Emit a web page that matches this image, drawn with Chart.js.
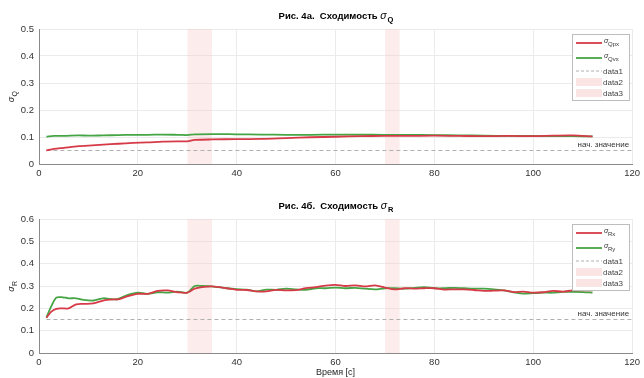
<!DOCTYPE html>
<html><head><meta charset="utf-8">
<script src="https://cdn.jsdelivr.net/npm/chart.js@4"></script>
<style>
html,body{margin:0;padding:0;background:#fff;}
#wrap{position:relative;width:644px;height:378px;}
#c1{position:absolute;left:0;top:0;}
#c2{position:absolute;left:0;top:190px;}
</style></head><body>
<div id="wrap">
<canvas id="c1" width="644" height="190"></canvas>
<canvas id="c2" width="644" height="188"></canvas>
</div>
<script>
// ---- data ----
const tQ = [1.5,3,5,8,10,13,16,19,22,25,28,30,31.5,35,40,45,50,55,60,65,70,75,80,85,90,95,100,104,108,112];
const qpx = [0.050,0.056,0.060,0.066,0.068,0.072,0.075,0.078,0.080,0.083,0.084,0.084,0.089,0.091,0.092,0.093,0.096,0.099,0.101,0.103,0.104,0.104,0.105,0.104,0.103,0.104,0.103,0.105,0.106,0.102];
const qvx = [0.101,0.104,0.104,0.106,0.105,0.106,0.107,0.108,0.108,0.109,0.108,0.107,0.110,0.111,0.110,0.109,0.108,0.108,0.109,0.109,0.108,0.108,0.107,0.106,0.105,0.104,0.104,0.103,0.103,0.102];

const tR = [1.5,2.5,3.5,4.5,6,7.5,9,11,13,15,16,18,20,22,24,26,28,30,31.5,33,35,38,40,42,44,46,48,50,52,54,56,58,60,62,64,66,68,70,72,74,76,78,80,82,84,86,88,90,92,94,96,98,100,102,104,106,108,110,112];
const rx = [0.158,0.185,0.198,0.200,0.200,0.218,0.220,0.222,0.235,0.240,0.240,0.255,0.265,0.265,0.278,0.280,0.272,0.270,0.288,0.295,0.298,0.290,0.283,0.282,0.276,0.276,0.283,0.280,0.282,0.290,0.295,0.302,0.305,0.300,0.303,0.298,0.303,0.293,0.285,0.290,0.288,0.290,0.290,0.284,0.285,0.285,0.282,0.278,0.279,0.280,0.273,0.275,0.270,0.272,0.278,0.275,0.280,0.280,0.281];
const ry = [0.160,0.210,0.248,0.250,0.245,0.245,0.238,0.235,0.245,0.240,0.242,0.260,0.270,0.265,0.272,0.270,0.275,0.270,0.300,0.300,0.298,0.290,0.286,0.284,0.276,0.284,0.283,0.288,0.285,0.283,0.290,0.290,0.293,0.290,0.292,0.288,0.285,0.290,0.290,0.288,0.292,0.295,0.290,0.290,0.292,0.290,0.288,0.288,0.285,0.280,0.272,0.266,0.268,0.270,0.270,0.274,0.274,0.273,0.270];

const shadeRanges = [[30,35],[70,73]];
const initQ = 0.05, initR = 0.15;
const initStart = 1.5;
const xMin = 0, xMax = 120;
const yMaxQ = 0.5, yMaxR = 0.6;
const xTicks = [0,20,40,60,80,100,120];

const RED = '#d63a47', GREEN = '#45a545', DASH = '#b0b0b0', SHADE = 'rgba(246,200,200,0.35)';
const FONT = '"Liberation Sans", Arial, sans-serif';

function pts(xs, ys){ return xs.map((x,i)=>({x:x,y:ys[i]})); }

function makeChart(id, opts){
  const yMax = opts.yMax;
  const datasets = [
    {data: pts(opts.t, opts.a), borderColor: RED, borderWidth: 1.8, pointRadius: 0, tension: 0.3, fill:false},
    {data: pts(opts.t, opts.b), borderColor: GREEN, borderWidth: 1.8, pointRadius: 0, tension: 0.3, fill:false},
    {data: [{x:initStart,y:opts.init},{x:xMax,y:opts.init}], borderColor: DASH, borderWidth: 1, borderDash:[4,3], pointRadius:0, fill:false}
  ];
  shadeRanges.forEach(r=>{
    datasets.push({data:[{x:r[0],y:yMax},{x:r[1],y:yMax}], borderWidth:0, borderColor:'rgba(0,0,0,0)', backgroundColor:SHADE, pointRadius:0, fill:'origin'});
  });
  const overlay = {
    id:'overlay',
    afterDraw(chart){
      const ctx = chart.ctx, ca = chart.chartArea, xs = chart.scales.x, ys = chart.scales.y;
      ctx.save();
      // title
      ctx.fillStyle = '#000';
      ctx.textBaseline = 'alphabetic';
      const tMain = opts.title + '  Сходимость ';
      ctx.font = 'bold 9.5px ' + FONT;
      const w1 = ctx.measureText(tMain).width;
      ctx.font = 'italic 10.5px ' + FONT;
      const w2 = ctx.measureText('σ').width;
      ctx.font = 'bold 7.5px ' + FONT;
      const w3 = ctx.measureText(opts.sub).width;
      let x0 = (ca.left + ca.right)/2 - (w1+w2+w3)/2;
      const ty = opts.titleY;
      ctx.font = 'bold 9.5px ' + FONT; ctx.fillText(tMain, x0, ty);
      ctx.font = 'italic 10.5px ' + FONT; ctx.fillText('σ', x0+w1, ty);
      ctx.font = 'bold 7.5px ' + FONT; ctx.fillText(opts.sub, x0+w1+w2+1, ty+3);
      // y label
      ctx.save();
      ctx.translate(14, (ca.top+ca.bottom)/2);
      ctx.rotate(-Math.PI/2);
      ctx.fillStyle = '#262626';
      ctx.font = 'italic 9px ' + FONT;
      ctx.textAlign = 'center';
      ctx.fillText('σ', -3, 0);
      ctx.font = '7px ' + FONT;
      ctx.textAlign = 'left';
      ctx.fillText(opts.sub, 0, 3);
      ctx.restore();
      // init text
      ctx.fillStyle = '#333';
      ctx.font = '8px ' + FONT;
      ctx.textAlign = 'right';
      ctx.fillText('нач. значение', ca.right - 3, ys.getPixelForValue(opts.init) - 4);
      // x label
      if (opts.xlabel){
        ctx.textAlign = 'center';
        ctx.fillStyle = '#262626';
        ctx.font = '9px ' + FONT;
        ctx.fillText(opts.xlabel, (ca.left+ca.right)/2, ca.bottom + 22);
      }
      // legend
      const lx = 572, ly = ca.top + 5, lw = 57, lh = 66;
      ctx.fillStyle = '#fff';
      ctx.fillRect(lx, ly, lw, lh);
      ctx.strokeStyle = '#bdbdbd'; ctx.lineWidth = 1;
      ctx.strokeRect(lx+0.5, ly+0.5, lw, lh);
      const rows = [
        {kind:'line', color:RED, s:'σ', sub:opts.legA, y: ly+9},
        {kind:'line', color:GREEN, s:'σ', sub:opts.legB, y: ly+24},
        {kind:'dash', color:DASH, txt:'data1', y: ly+37},
        {kind:'box', txt:'data2', y: ly+48},
        {kind:'box', txt:'data3', y: ly+59}
      ];
      ctx.textAlign = 'left';
      rows.forEach(r=>{
        if (r.kind==='line'){
          ctx.strokeStyle = r.color; ctx.lineWidth = 1.8; ctx.setLineDash([]);
          ctx.beginPath(); ctx.moveTo(lx+4, r.y); ctx.lineTo(lx+30, r.y); ctx.stroke();
          ctx.fillStyle = '#333';
          ctx.font = 'italic 7px ' + FONT; ctx.fillText(r.s, lx+32, r.y);
          ctx.font = '6px ' + FONT; ctx.fillText(r.sub, lx+36, r.y+3);
        } else if (r.kind==='dash'){
          ctx.strokeStyle = r.color; ctx.lineWidth = 1; ctx.setLineDash([3,2]);
          ctx.beginPath(); ctx.moveTo(lx+4, r.y); ctx.lineTo(lx+30, r.y); ctx.stroke();
          ctx.setLineDash([]);
          ctx.fillStyle = '#444'; ctx.font = '8px ' + FONT; ctx.fillText(r.txt, lx+31, r.y+3);
        } else {
          ctx.fillStyle = 'rgba(250,228,228,1)';
          ctx.fillRect(lx+4, r.y-4, 26, 8);
          ctx.fillStyle = '#444'; ctx.font = '8px ' + FONT; ctx.fillText(r.txt, lx+31, r.y+3);
        }
      });
      ctx.restore();
    }
  };
  return new Chart(document.getElementById(id), {
    type:'line',
    data:{datasets},
    options:{
      responsive:false, animation:false,
      layout:{padding:{top:29, right:9, left:0, bottom:0}},
      plugins:{legend:{display:false}, tooltip:{enabled:false}, title:{display:false}},
      scales:{
        x:{type:'linear', min:xMin, max:xMax,
           afterBuildTicks(s){ s.ticks = xTicks.map(v=>({value:v})); },
           afterFit(s){ s.height = opts.xh; },
           grid:{color:'#ebebeb', drawTicks:false},
           border:{color:'#8a8a8a', width:1},
           ticks:{color:'#333', font:{size:9.5, family:FONT}, padding:4, maxRotation:0}},
        y:{min:0, max:yMax,
           afterFit(s){ s.width = 39; },
           grid:{color:'#ebebeb', drawTicks:false},
           border:{color:'#8a8a8a', width:1},
           ticks:{stepSize:0.1, color:'#333', font:{size:9.5, family:FONT}, padding:5,
                  callback:v=> v===0 ? '0' : (Math.round(v*10)/10).toString()}}
      }
    },
    plugins:[overlay]
  });
}

makeChart('c1', {t:tQ, a:qpx, b:qvx, init:initQ, yMax:yMaxQ, title:'Рис. 4а.', sub:'Q', legA:'Qpx', legB:'Qvx', titleY:19, xh:26});
makeChart('c2', {t:tR, a:rx, b:ry, init:initR, yMax:yMaxR, title:'Рис. 4б.', sub:'R', legA:'Rx', legB:'Ry', titleY:19, xh:25, xlabel:'Время [с]'});
</script>
</body></html>
